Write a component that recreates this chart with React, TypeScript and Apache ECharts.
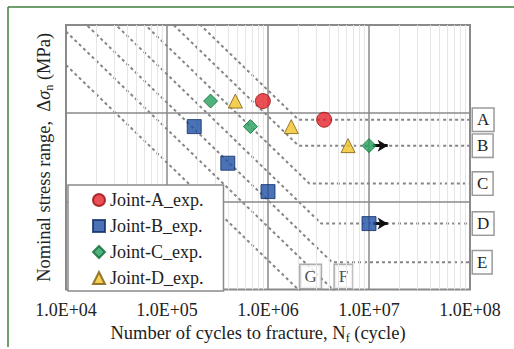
import React, { useEffect, useRef } from "react";
import * as echarts from "echarts";

// ---- data ----
const xTickLabels = ["1.0E+04", "1.0E+05", "1.0E+06", "1.0E+07", "1.0E+08"];
const minorDecades = [1e4, 1e5, 1e6, 1e7];
const minorMultipliers = [2, 3, 4, 5, 6, 7, 8, 9];
const yGridValues = [100, 200];

// design S-N curves (JSSC grades), [N, stress range]
const curveNames = ["A", "B", "C", "D", "E", "F", "G"];
const curveA = [[1e4, 1111], [2e6, 190], [1e8, 190]];
const curveB = [[1e4, 906], [2e6, 155], [1e8, 155]];
const curveC = [[1e4, 731], [2.57e6, 115], [1e8, 115]];
const curveD = [[1e4, 585], [3.37e6, 84], [1e8, 84]];
const curveE = [[1e4, 468], [4.3e6, 62], [1e8, 62]];
const curveF = [[1e4, 380], [5.64e6, 46], [1e8, 46]];
const curveG = [[1e4, 292], [4.21e6, 39], [1e8, 39]];
const curves = [curveA, curveB, curveC, curveD, curveE, curveF, curveG];
// labels for the curves that leave through the bottom
const bottomLabelNames = ["G", "F"];
const bottomLabelAnchors = [[2.64e6, 55.4], [5.6e6, 55.4]];

// experiments
const jointA = [[8.9e5, 220], [3.6e6, 190]];
const jointB = [[1.86e5, 180], [4.0e5, 135], [1.0e6, 108], [1.0e7, 84]];
const jointC = [[2.7e5, 220], [6.7e5, 180], [1.0e7, 155]];
const jointD = [[4.75e5, 220], [1.7e6, 180], [6.2e6, 155]];
// run-out arrows: [start, end]
const runoutC = [[1.1e7, 155], [1.53e7, 155]];
const runoutB = [[1.1e7, 84], [1.53e7, 84]];

const FONT = "Liberation Serif, DejaVu Serif, serif";

export default function App() {
  const ref = useRef<HTMLDivElement>(null);
  useEffect(() => {
    if (!ref.current) return;
    const chart = echarts.init(ref.current, undefined, { renderer: "svg" });

    const minorX: number[] = [];
    minorDecades.forEach((d) => minorMultipliers.forEach((m) => minorX.push(d * m)));

    const gridMarkLine = {
      silent: true,
      symbol: "none",
      label: { show: false },
      animation: false,
      data: [
        ...minorX.map((v) => ({ xAxis: v, lineStyle: { color: "#e6e6e6", width: 1, type: "solid" } })),
        ...yGridValues.map((v) => ({ yAxis: v, lineStyle: { color: "#8a8a8a", width: 1.5, type: "solid" } })),
      ],
    };

    const labelBox = {
      fontFamily: FONT,
      fontSize: 17,
      color: "#222",
      backgroundColor: "#fff",
      borderColor: "#9a9a9a",
      borderWidth: 1.5,
      padding: [3, 4, 2, 4],
    };

    const curveSeries = curves.map((c, i) => ({
      type: "line",
      name: "curve" + curveNames[i],
      data: c,
      showSymbol: false,
      symbol: "none",
      silent: true,
      z: 2,
      lineStyle: { color: "#858585", width: 2, type: [3, 3] },
      endLabel:
        i < 5
          ? { show: true, formatter: curveNames[i], distance: 3, ...labelBox }
          : { show: false },
      markLine: i === 0 ? gridMarkLine : undefined,
    }));

    const arrowLine = (pts: number[][]) => ({
      silent: true,
      symbol: ["none", "arrow"],
      symbolSize: [9, 10],
      label: { show: false },
      lineStyle: { color: "#111", width: 3, type: "solid" },
      data: [[{ coord: pts[0] }, { coord: pts[1] }]],
    });

    const titleRich = {
      t: { fontFamily: FONT, fontSize: 18.5, color: "#222", lineHeight: 22 },
      it: { fontFamily: FONT, fontSize: 18.5, color: "#222", fontStyle: "italic", lineHeight: 22 },
      sub: { fontFamily: FONT, fontSize: 12, color: "#222", verticalAlign: "bottom", lineHeight: 14 },
    };

    const option = {
      animation: false,
      backgroundColor: "#fff",
      textStyle: { fontFamily: FONT },
      grid: {
        left: 66,
        top: 25,
        right: 44,
        bottom: 57,
        show: true,
        borderColor: "#8a8a8a",
        borderWidth: 2,
        backgroundColor: "#fff",
      },
      legend: {
        orient: "vertical",
        left: 68,
        top: 185,
        z: 10,
        zlevel: 0,
        backgroundColor: "#fff",
        borderColor: "#8a8a8a",
        borderWidth: 1.5,
        padding: [6, 20, 4, 24],
        itemWidth: 12,
        itemHeight: 12,
        itemGap: 8,
        textStyle: { fontFamily: FONT, fontSize: 18, color: "#222", lineHeight: 18 },
        data: [
          { name: "Joint-A_exp.", icon: "circle" },
          { name: "Joint-B_exp.", icon: "rect" },
          { name: "Joint-C_exp.", icon: "diamond" },
          { name: "Joint-D_exp.", icon: "triangle" },
        ],
      },
      xAxis: {
        type: "log",
        logBase: 10,
        min: 1e4,
        max: 1e8,
        name: "{t|Number of cycles to fracture, N}{sub|f}{t| (cycle)}",
        nameLocation: "middle",
        nameGap: 29,
        nameTextStyle: {
          fontFamily: FONT,
          fontSize: 18.5,
          color: "#222",
          padding: [0, 20, 0, 0],
          rich: titleRich,
        },
        axisLine: { show: false },
        axisTick: { show: false },
        axisLabel: {
          fontFamily: FONT,
          fontSize: 18,
          color: "#222",
          margin: 11,
          formatter: (v: number) => xTickLabels[Math.round(Math.log10(v)) - 4] ?? "",
        },
        splitLine: { show: true, lineStyle: { color: "#8a8a8a", width: 1.5 } },
      },
      yAxis: {
        type: "log",
        logBase: 10,
        min: 50,
        max: 400,
        name: "{t|Nominal stress range,  Δ}{it|σ}{sub|n}{t| (MPa)}",
        nameLocation: "middle",
        nameRotate: 90,
        nameGap: 11,
        nameTextStyle: {
          fontFamily: FONT,
          fontSize: 18.5,
          color: "#222",
          rich: titleRich,
        },
        axisLine: { show: false },
        axisTick: { show: false },
        axisLabel: { show: false },
        splitLine: { show: false },
      },
      graphic: [
        { type: "line", shape: { x1: 8, y1: 7, x2: 514, y2: 7 }, style: { stroke: "#3f7f3f", lineWidth: 1.5 }, silent: true },
        { type: "line", shape: { x1: 8, y1: 7, x2: 8, y2: 347 }, style: { stroke: "#3f7f3f", lineWidth: 1.5 }, silent: true },
      ],
      series: [
        ...curveSeries,
        {
          type: "scatter",
          name: "curveLabels",
          data: bottomLabelAnchors,
          symbolSize: 1,
          itemStyle: { color: "rgba(0,0,0,0)" },
          silent: true,
          z: 3,
          label: {
            show: true,
            position: "inside",
            formatter: (p: any) => bottomLabelNames[p.dataIndex],
            ...labelBox,
            padding: [4, 4, 2, 4],
          },
        },
        {
          type: "scatter",
          name: "Joint-A_exp.",
          data: jointA,
          symbol: "circle",
          symbolSize: 15,
          z: 5,
          itemStyle: { color: "#e3232a", borderColor: "#9c1014", borderWidth: 1 },
        },
        {
          type: "scatter",
          name: "Joint-B_exp.",
          data: jointB,
          symbol: "rect",
          symbolSize: 14,
          z: 5,
          itemStyle: { color: "#1e4fa3", borderColor: "#0f2d66", borderWidth: 1 },
          markLine: arrowLine(runoutB),
        },
        {
          type: "scatter",
          name: "Joint-C_exp.",
          data: jointC,
          symbol: "diamond",
          symbolSize: 14,
          z: 5,
          itemStyle: { color: "#23a05a", borderColor: "#0e6a35", borderWidth: 1 },
          markLine: arrowLine(runoutC),
        },
        {
          type: "scatter",
          name: "Joint-D_exp.",
          data: jointD,
          symbol: "triangle",
          symbolSize: 14,
          z: 5,
          itemStyle: { color: "#f3c327", borderColor: "#7a5a10", borderWidth: 1 },
        },
      ],
    };

    chart.setOption(option as any);
    return () => chart.dispose();
  }, []);

  return <div ref={ref} style={{ width: 514, height: 349, position: "absolute", left: 0, top: 0 }} />;
}
